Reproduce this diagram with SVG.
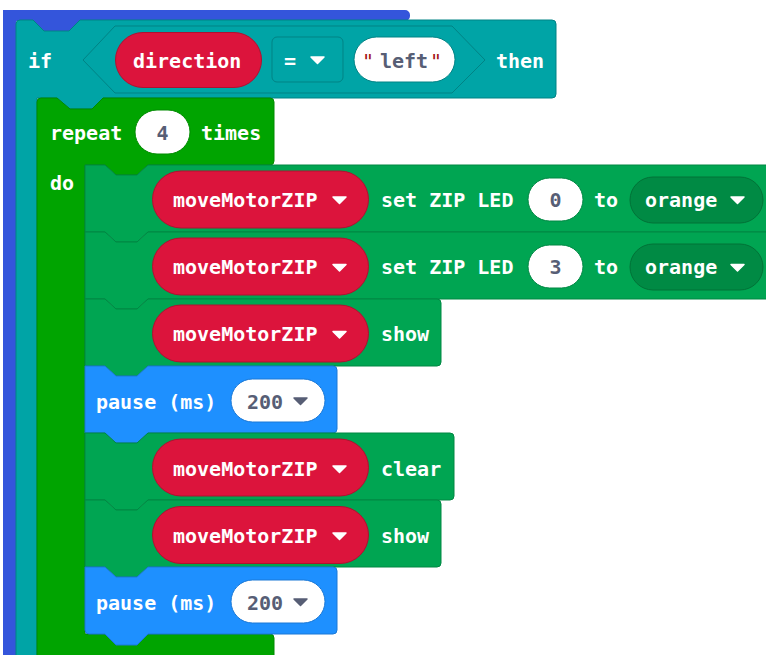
<svg xmlns="http://www.w3.org/2000/svg" width="766" height="655" viewBox="0 0 766 655">
  <style>
    .t { font-family: "DejaVu Sans Mono", "Liberation Mono", monospace; font-size: 20px; font-weight: bold; fill: #ffffff; }
    .v { font-family: "DejaVu Sans Mono", "Liberation Mono", monospace; font-size: 20px; font-weight: bold; fill: #575e75; }
    .q { fill: #a31515; font-weight: normal; }
    .func { fill: #3455db; }
    .logic { fill: #00a4a6; stroke: #008385; stroke-width: 1; }
    .loop { fill: #00a400; stroke: #008a00; stroke-width: 1; }
    .zip { fill: #00a552; stroke: #008743; stroke-width: 1; }
    .basic { fill: #1e90ff; stroke: #1a78d6; stroke-width: 1; }
    .var { fill: #dc143c; stroke: #b01030; stroke-width: 1; }
    .num { fill: #ffffff; stroke: #008743; stroke-width: 1; }
    .numb { fill: #ffffff; stroke: #1a78d6; stroke-width: 1; }
    .numl { fill: #ffffff; stroke: #008a00; stroke-width: 1; }
    .dd { fill: #008a44; stroke: #007237; stroke-width: 1; }
    .arrow { fill: #ffffff; stroke: #ffffff; stroke-width: 1.5; stroke-linejoin: round; }
    .arrowg { fill: #575e75; stroke: #575e75; stroke-width: 1.5; stroke-linejoin: round; }
  </style>
  <defs>
    <path id="tri" d="M0,0 H13 L6.5,6.5 Z"/>
  </defs>

  <!-- outer function block (only its top strip and left arm are visible) -->
  <g id="func-block">
    <path class="func" d="M3,10 H405 A5,5 0 0 1 410,15 V16 A5,5 0 0 1 405,21 H80 L69,31 H44 L33,21 H16 V660 H3 Z"/>
  </g>

  <!-- if ... then -->
  <g id="if-block">
    <path class="logic" d="M16,24 Q16,20 20,20 H33 L44,31 H69 L80,20 H552 Q556,20 556,24 V94 Q556,98 552,98 H103 L92,109 H70 L57,98 H37 V665 H16 Z"/>
    <text class="t" x="28" y="67.5">if</text>
    <path class="logic" d="M83,60 L115,26 H452 L485,60 L452,93 H115 Z"/>
    <g id="var-direction">
      <rect class="var" x="115.5" y="32.5" width="146" height="55" rx="27.5"/>
      <text class="t" x="133" y="67.5">direction</text>
    </g>
    <g id="op-eq">
      <rect class="logic" x="272" y="37" width="71" height="45" rx="5"/>
      <text class="t" x="284" y="67.5">=</text>
      <use href="#tri" class="arrow" x="311" y="57"/>
    </g>
    <g id="str-left">
      <rect x="354" y="37" width="101" height="45" rx="22.5" fill="#ffffff" stroke="#008385"/>
      <text class="v" x="362" y="67.5"><tspan class="q">"</tspan><tspan x="380">left</tspan><tspan class="q" x="430">"</tspan></text>
    </g>
    <text class="t" x="496" y="67.5">then</text>
  </g>

  <!-- repeat 4 times -->
  <g id="repeat-block">
    <path class="loop" d="M37,102 Q37,98 41,98 H57 L70,109 H92 L103,98 H270 Q274,98 274,102 V161 Q274,165 270,165 H148 L137,175 H116 L105,165 H85 V634 H270 Q274,634 274,638 V665 H37 Z"/>
    <text class="t" x="50" y="140">repeat</text>
    <rect class="numl" x="135" y="110" width="55" height="44" rx="22"/>
    <text class="v" x="162.5" y="140" text-anchor="middle">4</text>
    <text class="t" x="201" y="140">times</text>
    <text class="t" x="50" y="190">do</text>
  </g>

  <!-- set ZIP LED 0 to orange -->
  <g id="zip-set-0">
    <path class="zip" d="M85,165 H105 L116,175 H137 L148,165 H790 V232 H148 L137,242 H116 L105,232 H85 Z"/>
    <rect class="var" x="152.5" y="171" width="216" height="57" rx="28.5"/>
    <text class="t" x="173" y="206.5">moveMotorZIP</text>
    <use href="#tri" class="arrow" x="333" y="197"/>
    <text class="t" x="381" y="206.5">set ZIP LED</text>
    <rect class="num" x="528" y="178" width="55" height="43" rx="21.5"/>
    <text class="v" x="555.5" y="206.5" text-anchor="middle">0</text>
    <text class="t" x="594" y="206.5">to</text>
    <rect class="dd" x="630" y="177" width="133" height="46" rx="23"/>
    <text class="t" x="645" y="206.5">orange</text>
    <use href="#tri" class="arrow" x="731" y="197"/>
  </g>

  <!-- set ZIP LED 3 to orange -->
  <g id="zip-set-3">
    <path class="zip" d="M85,232 H105 L116,242 H137 L148,232 H790 V299 H148 L137,309 H116 L105,299 H85 Z"/>
    <rect class="var" x="152.5" y="238" width="216" height="57" rx="28.5"/>
    <text class="t" x="173" y="274">moveMotorZIP</text>
    <use href="#tri" class="arrow" x="333" y="264.5"/>
    <text class="t" x="381" y="274">set ZIP LED</text>
    <rect class="num" x="528" y="245" width="55" height="43" rx="21.5"/>
    <text class="v" x="555.5" y="274" text-anchor="middle">3</text>
    <text class="t" x="594" y="274">to</text>
    <rect class="dd" x="630" y="244" width="133" height="46" rx="23"/>
    <text class="t" x="645" y="274">orange</text>
    <use href="#tri" class="arrow" x="731" y="264.5"/>
  </g>

  <!-- show -->
  <g id="zip-show-1">
    <path class="zip" d="M85,299 H105 L116,309 H137 L148,299 H437 Q441,299 441,303 V362 Q441,366 437,366 H148 L137,376 H116 L105,366 H85 Z"/>
    <rect class="var" x="152.5" y="305" width="216" height="57" rx="28.5"/>
    <text class="t" x="173" y="341">moveMotorZIP</text>
    <use href="#tri" class="arrow" x="333" y="331.5"/>
    <text class="t" x="381" y="341">show</text>
  </g>

  <!-- pause 200 -->
  <g id="pause-1">
    <path class="basic" d="M85,366 H105 L116,376 H137 L148,366 H333 Q337,366 337,370 V429 Q337,433 333,433 H148 L137,443 H116 L105,433 H85 Z"/>
    <text class="t" x="96" y="408.5">pause (ms)</text>
    <rect class="numb" x="231" y="379" width="94" height="43" rx="21.5"/>
    <text class="v" x="247" y="408.5">200</text>
    <use href="#tri" class="arrowg" x="294" y="398"/>
  </g>

  <!-- clear -->
  <g id="zip-clear">
    <path class="zip" d="M85,433 H105 L116,443 H137 L148,433 H450 Q454,433 454,437 V496 Q454,500 450,500 H148 L137,510 H116 L105,500 H85 Z"/>
    <rect class="var" x="152.5" y="439" width="216" height="57" rx="28.5"/>
    <text class="t" x="173" y="475.5">moveMotorZIP</text>
    <use href="#tri" class="arrow" x="333" y="466"/>
    <text class="t" x="381" y="475.5">clear</text>
  </g>

  <!-- show -->
  <g id="zip-show-2">
    <path class="zip" d="M85,500 H105 L116,510 H137 L148,500 H437 Q441,500 441,504 V563 Q441,567 437,567 H148 L137,577 H116 L105,567 H85 Z"/>
    <rect class="var" x="152.5" y="506.5" width="216" height="57" rx="28.5"/>
    <text class="t" x="173" y="542.5">moveMotorZIP</text>
    <use href="#tri" class="arrow" x="333" y="533"/>
    <text class="t" x="381" y="542.5">show</text>
  </g>

  <!-- pause 200 -->
  <g id="pause-2">
    <path class="basic" d="M85,567 H105 L116,577 H137 L148,567 H333 Q337,567 337,571 V630 Q337,634 333,634 H148 L137,645 H116 L105,634 H89 Q85,634 85,630 Z"/>
    <text class="t" x="96" y="609.5">pause (ms)</text>
    <rect class="numb" x="231" y="580" width="94" height="43" rx="21.5"/>
    <text class="v" x="247" y="609.5">200</text>
    <use href="#tri" class="arrowg" x="294" y="599"/>
  </g>

  <!-- no connectors: blocks snap together directly -->
  <g id="connectors"/>
</svg>
